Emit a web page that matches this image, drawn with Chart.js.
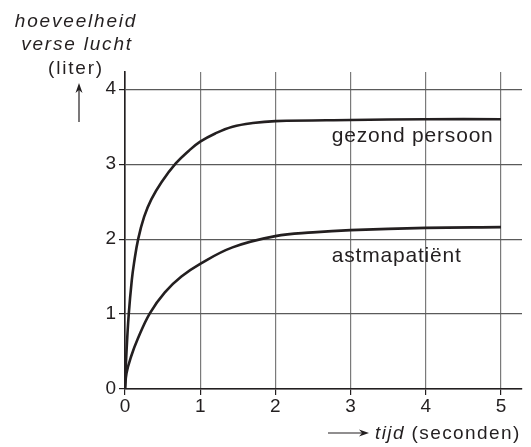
<!DOCTYPE html>
<html>
<head>
<meta charset="utf-8">
<script src="https://cdn.jsdelivr.net/npm/chart.js@4/dist/chart.umd.min.js"></script>
<style>
  body { margin: 0; background: #fff; }
  #wrap { width: 531px; height: 447px; }
</style>
</head>
<body>
<div id="wrap"><canvas id="lucht"></canvas></div>
<script>
// tijd (s) en hoeveelheid verse lucht (liter)
var tijdGezond = [0, 0.02, 0.05, 0.09, 0.12, 0.175, 0.255, 0.35, 0.485, 0.675, 0.85, 1.0, 1.2, 1.43, 1.7, 2.0, 3.0, 4.0, 5.0];
var gezond     = [0, 0.5, 1.0, 1.45, 1.68, 2.0, 2.3, 2.53, 2.76, 3.01, 3.18, 3.3, 3.41, 3.5, 3.55, 3.575, 3.59, 3.6, 3.6];

var tijdAstma = [0, 0.02, 0.08, 0.17, 0.33, 0.53, 0.75, 1.0, 1.43, 2.0, 2.5, 3.0, 4.0, 5.0];
var astma     = [0, 0.21, 0.43, 0.67, 1.01, 1.29, 1.5, 1.67, 1.89, 2.04, 2.09, 2.12, 2.15, 2.16];

var xTicks = [0, 1, 2, 3, 4, 5];
var yTicks = [0, 1, 2, 3, 4];

var ink = '#231f20';
var font = 'Liberation Sans, Arial, Helvetica, sans-serif';

function pts(xs, ys) {
  return xs.map(function (x, i) { return { x: x, y: ys[i] }; });
}

function arrow(ctx, x1, y1, x2, y2) {
  var a = Math.atan2(y2 - y1, x2 - x1);
  ctx.beginPath();
  ctx.moveTo(x1, y1);
  ctx.lineTo(x2 - 6 * Math.cos(a), y2 - 6 * Math.sin(a));
  ctx.stroke();
  ctx.beginPath();
  ctx.moveTo(x2, y2);
  ctx.lineTo(x2 - 10 * Math.cos(a) + 3.5 * Math.sin(a), y2 - 10 * Math.sin(a) - 3.5 * Math.cos(a));
  ctx.lineTo(x2 - 7 * Math.cos(a), y2 - 7 * Math.sin(a));
  ctx.lineTo(x2 - 10 * Math.cos(a) - 3.5 * Math.sin(a), y2 - 10 * Math.sin(a) + 3.5 * Math.cos(a));
  ctx.closePath();
  ctx.fill();
}

var labels = {
  id: 'labels',
  afterDraw: function (chart) {
    var ctx = chart.ctx;
    var xs = chart.scales.x, ys = chart.scales.y;
    ctx.save();
    ctx.fillStyle = ink;
    ctx.strokeStyle = ink;
    ctx.lineWidth = 1.2;
    ctx.textBaseline = 'alphabetic';

    // y-as titel
    ctx.textAlign = 'center';
    ctx.letterSpacing = '1.8px';
    ctx.font = 'italic 19px ' + font;
    ctx.fillText('hoeveelheid', 76, 27);
    ctx.fillText('verse lucht', 77, 50);
    ctx.font = '19px ' + font;
    ctx.fillText('(liter)', 76, 74);
    arrow(ctx, 79, 122, 79, 83);

    // x-as titel
    ctx.textAlign = 'left';
    ctx.letterSpacing = '1.4px';
    ctx.font = 'italic 19px ' + font;
    ctx.fillText('tijd', 375, 439);
    var w = ctx.measureText('tijd ').width;
    ctx.font = '19px ' + font;
    ctx.fillText('(seconden)', 375 + w, 439);
    arrow(ctx, 328, 433, 369, 433);

    // curve labels
    ctx.letterSpacing = '0.8px';
    ctx.font = '21px ' + font;
    ctx.fillText('gezond persoon', xs.getPixelForValue(2.75), ys.getPixelForValue(3.29));
    ctx.fillText('astmapatiënt', xs.getPixelForValue(2.75), ys.getPixelForValue(1.69));
    ctx.restore();
  }
};

new Chart(document.getElementById('lucht'), {
  type: 'line',
  data: {
    datasets: [{
      label: 'gezond persoon',
      data: pts(tijdGezond, gezond),
      borderColor: ink,
      borderWidth: 2.6,
      pointRadius: 0,
      tension: 0.4,
      fill: false
    }, {
      label: 'astmapatiënt',
      data: pts(tijdAstma, astma),
      borderColor: ink,
      borderWidth: 2.6,
      pointRadius: 0,
      tension: 0.4,
      fill: false
    }]
  },
  options: {
    responsive: true,
    maintainAspectRatio: false,
    animation: false,
    layout: { padding: { left: 0, top: 72, right: 9, bottom: 0 } },
    plugins: { legend: { display: false }, tooltip: { enabled: false } },
    scales: {
      x: {
        type: 'linear',
        min: 0,
        max: 5.28,
        afterFit: function (s) { s.height = 58; },
        afterBuildTicks: function (s) { s.ticks = xTicks.map(function (v) { return { value: v }; }); },
        grid: { color: '#7a7a7a', lineWidth: 1.2, tickLength: 6, tickColor: ink },
        border: { color: ink, width: 1.6 },
        ticks: { color: ink, padding: 0, font: { family: font, size: 19 } }
      },
      y: {
        min: 0,
        max: 4.23,
        afterFit: function (s) { s.width = 125; },
        afterBuildTicks: function (s) { s.ticks = yTicks.map(function (v) { return { value: v }; }); },
        grid: { color: '#5a5a5a', lineWidth: 1.2, tickLength: 6, tickColor: ink },
        border: { color: ink, width: 1.6 },
        ticks: { color: ink, padding: 3, font: { family: font, size: 19 } }
      }
    }
  },
  plugins: [labels]
});
</script>
</body>
</html>
